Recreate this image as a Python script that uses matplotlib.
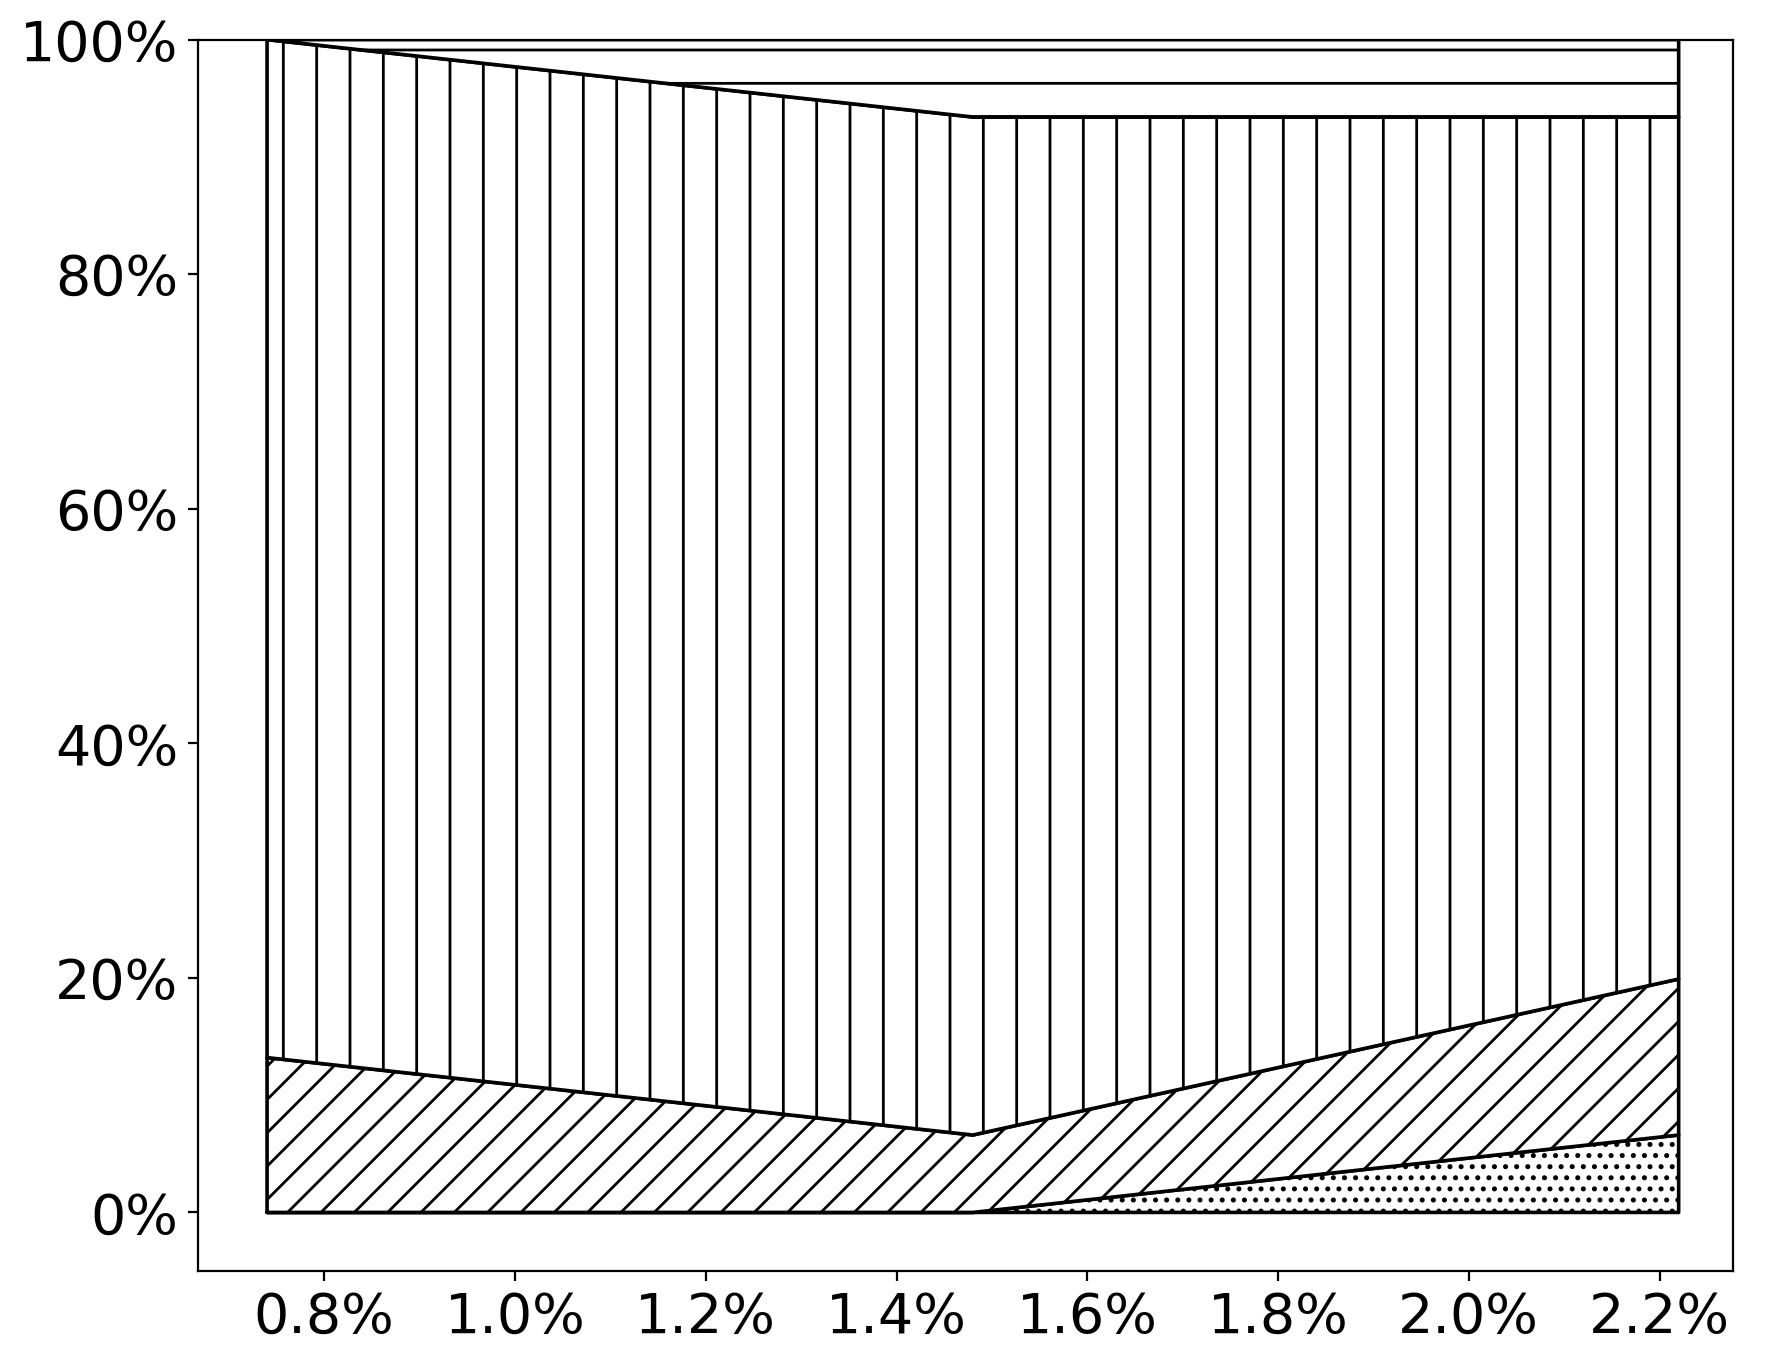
import matplotlib
matplotlib.use("Agg")
import matplotlib.pyplot as plt
from matplotlib.ticker import PercentFormatter

# x positions (percent) and stacked layer shares (percent)
x_vals = [0.74, 1.48, 2.22]
dots_layer = [0.0, 0.0, 6.6]
diag_layer = [13.2, 6.6, 13.3]
vert_layer = [86.8, 86.8, 73.5]
horiz_layer = [0.0, 6.6, 6.6]

layers = [dots_layer, diag_layer, vert_layer, horiz_layer]
hatches = ['...', '//', '|', '-']

fig = plt.figure(figsize=(8.84, 6.83), dpi=200)
ax = fig.add_axes([0.112, 0.0695, 0.868, 0.9015])

polys = ax.stackplot(x_vals, *layers, colors=['white'] * 4,
                     edgecolor='black', linewidth=1.3)
for p, h in zip(polys, hatches):
    p.set_hatch(h)

ax.set_xlim(0.6676, 2.2766)
ax.set_ylim(-5, 100)
ax.set_yticks([0, 20, 40, 60, 80, 100])
ax.set_xticks([0.8, 1.0, 1.2, 1.4, 1.6, 1.8, 2.0, 2.2])
ax.xaxis.set_major_formatter(PercentFormatter(xmax=100, decimals=1))
ax.yaxis.set_major_formatter(PercentFormatter(xmax=100, decimals=0))
ax.tick_params(labelsize=20)

fig.savefig('out.png', dpi=200)
